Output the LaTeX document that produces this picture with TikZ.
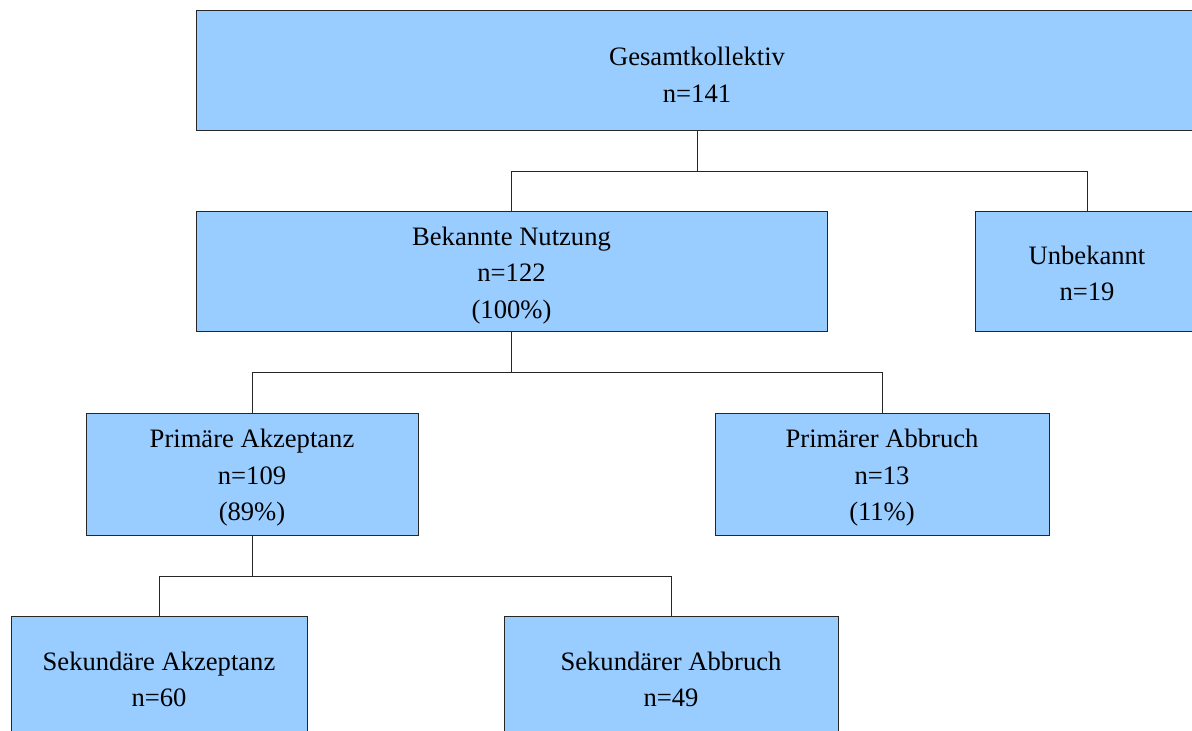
\documentclass[tikz,border=0pt]{standalone}
\usepackage{fontspec}
\setmainfont{Liberation Serif}
\usepackage{xcolor}

\definecolor{boxblue}{HTML}{99CCFF}
\tikzset{
    box/.style={draw=black!85, fill=boxblue, line width=0.5pt,
        inner sep=0pt, minimum height=60pt},
    boxtext/.style={align=center, inner sep=0pt, yshift=-1.75pt,
        font=\fontsize{13.3}{18.3}\selectfont},
    link/.style={draw=black!85, line width=0.5pt}
}

\begin{document}
\begin{tikzpicture}[x=0.5pt,y=-0.5pt]
    \useasboundingbox (0,0) rectangle (1192,731);
    \clip (0,0) rectangle (1192,731);

    % Boxes
    \node[box, minimum width=501pt] (gesamt) at (697,71) {};
    \node[boxtext] (gesamt-t) at (gesamt.center) {Gesamtkollektiv\\n=141};

    \node[box, minimum width=315.5pt] (bekannt) at (511.5,272) {};
    \node[boxtext] (bekannt-t) at (bekannt.center) {Bekannte Nutzung\\n=122\\(100\%)};
    \node[box, minimum width=112pt] (unbekannt) at (1087,272) {};
    \node[boxtext, yshift=1pt] (unbekannt-t) at (unbekannt.center) {Unbekannt\\n=19};

    \node[box, minimum width=166pt, minimum height=60.5pt] (primakz) at (252,474.5) {};
    \node[boxtext] (primakz-t) at (primakz.center) {Primäre Akzeptanz\\n=109\\(89\%)};
    \node[box, minimum width=167pt, minimum height=60.5pt] (primabb) at (882,474.5) {};
    \node[boxtext] (primabb-t) at (primabb.center) {Primärer Abbruch\\n=13\\(11\%)};

    \node[box, minimum width=148pt] (sekakz) at (159,676) {};
    \node[boxtext] (sekakz-t) at (sekakz.center) {Sekundäre Akzeptanz\\n=60};
    \node[box, minimum width=167pt] (sekabb) at (671,676) {};
    \node[boxtext] (sekabb-t) at (sekabb.center) {Sekundärer Abbruch\\n=49};

    % Junctions
    \coordinate (j1) at (697,172);
    \coordinate (j2) at (511.5,373);
    \coordinate (j3) at (252,576);

    % Connectors
    \draw[link] (gesamt.south) -- (j1);
    \draw[link] (j1) -| (bekannt.north);
    \draw[link] (j1) -| (unbekannt.north);

    \draw[link] (bekannt.south) -- (j2);
    \draw[link] (j2) -| (primakz.north);
    \draw[link] (j2) -| (primabb.north);

    \draw[link] (primakz.south) -- (j3);
    \draw[link] (j3) -| (sekakz.north);
    \draw[link] (j3) -| (sekabb.north);
\end{tikzpicture}
\end{document}
